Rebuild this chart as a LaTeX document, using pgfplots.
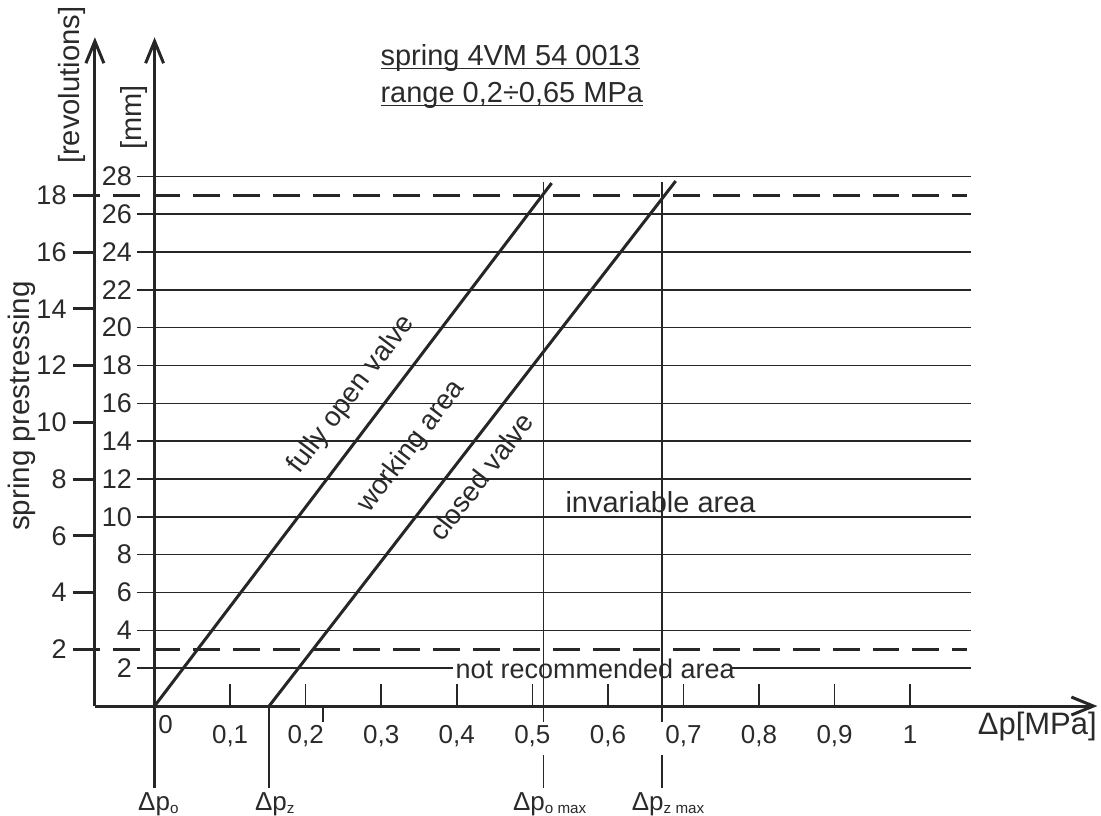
\documentclass[border=0pt]{standalone}
\usepackage{pgfplots}
\pgfplotsset{compat=1.18}
\usetikzlibrary{arrows.meta}
\usepackage{fontspec}
\setmainfont{Liberation Sans}
\definecolor{lc}{HTML}{262626}
\definecolor{tc}{HTML}{2A2A2A}
\newcommand\fs[1]{\fontsize{#1}{#1}\selectfont}
\newbox\ulbox
\newcommand\ul[1]{\setbox\ulbox\hbox{#1}\rlap{\rule[-2.1pt]{\wd\ulbox}{0.75pt}}\box\ulbox}
\newcommand\sub[1]{\raisebox{-1.6pt}{\fs{7.6}#1}}
\pgfplotsset{
  thinl/.style={line width=0.75pt, color=lc},
  thickl/.style={line width=1.5pt, color=lc},
  dashl/.style={line width=1.5pt, color=lc, dash pattern=on 13.5pt off 6.5pt},
}
\begin{document}
\begin{tikzpicture}
\begin{axis}[
  x=378pt, y=9.465pt,
  xmin=-0.079, xmax=1.2478, ymin=0, ymax=35.35,
  axis x line=bottom, axis y line=left,
  axis line style={line width=1.5pt, color=lc, -{Straight Barb[length=11pt,width=9pt]}},
  clip=false,
  xtick={0.1,0.2,0.3,0.4,0.5,0.6,0.7,0.8,0.9,1},
  xticklabels={0{,}1,0{,}2,0{,}3,0{,}4,0{,}5,0{,}6,0{,}7,0{,}8,0{,}9,1},
  tick align=inside, major tick length=11pt,
  tick style={line width=0.75pt, color=lc},
  xticklabel style={anchor=north, inner sep=0pt, yshift=-9.5pt, font=\fs{13}, text=tc},
  ytick=\empty,
  extra y ticks={3,6,9,12,15,18,21,24,27},
  extra y tick labels={2,4,6,8,10,12,14,16,18},
  extra y tick style={tick align=outside, major tick length=11pt,
     tick style={line width=1.5pt, color=lc},
     yticklabel style={anchor=east, inner sep=0pt, xshift=-3pt, font=\fs{13.5}, text=tc}},
]
% frame of the picture
\path (axis cs:-0.2046,-5.79) rectangle (axis cs:1.2517,37.31);

% horizontal grid lines (mm)
\pgfplotsinvokeforeach{4,6,8,10,12,14,16,18,20,22,24,26,28}{
  \addplot[thinl] coordinates {(-0.0234,#1) (1.0811,#1)};
}
\addplot[thinl] coordinates {(-0.0234,2) (0.3946,2)};
\addplot[thinl] coordinates {(0.7637,2) (1.0811,2)};

% dashed limits (2 and 18 revolutions = 3 and 27 mm)
\addplot[dashl] coordinates {(-0.108,3) (1.0758,3)};
\addplot[dashl] coordinates {(-0.108,27) (1.0758,27)};

% mm axis
\addplot[thickl, -{Straight Barb[length=11pt,width=9pt]}] coordinates {(0,-4.32) (0,35.35)};
% Delta p_z marker
\addplot[thinl] coordinates {(0.1516,0) (0.1516,-4.32)};
% small mark under axis
\addplot[thinl] coordinates {(0.2226,0) (0.2226,-0.835)};

% vertical lines at max pressures
\addplot[thinl] coordinates {(0.515,27.69) (0.515,-0.835)};
\addplot[thinl] coordinates {(0.515,-2.58) (0.515,-4.32)};
\addplot[thinl] coordinates {(0.6713,27.69) (0.6713,-0.835)};
\addplot[thinl] coordinates {(0.6713,-2.58) (0.6713,-4.32)};

% characteristic lines
\addplot[thickl] coordinates {(0,0) (0.5255,27.64)};
\addplot[thickl] coordinates {(0.1516,0) (0.6897,27.75)};

% mm labels
\pgfplotsinvokeforeach{2,4,6,8,10,12,14,16,18,20,22,24,26,28}{
  \node[anchor=east, inner sep=0pt, font=\fs{13.5}, text=tc] at (axis cs:-0.0294,#1) {#1};
}
\node[anchor=north west, inner sep=0pt, font=\fs{13}, text=tc] at (axis cs:0.0044,-0.465) {0};

% axis titles
\node[rotate=90, font=\fs{14.6}, text=tc] at (axis cs:-0.1087,32.81) {[revolutions]};
\node[rotate=90, font=\fs{14.5}, text=tc] at (axis cs:-0.0267,31.1) {[mm]};
\node[rotate=90, font=\fs{14.8}, text=tc] at (axis cs:-0.1755,15.86) {spring prestressing};
\node[anchor=base west, inner sep=0pt, font=\fs{15.5}, text=tc] at (axis cs:1.0891,-1.521) {Δp[MPa]};

% title
\node[anchor=base west, inner sep=0pt, font=\fs{14.5}, text=tc] at (axis cs:0.2986,33.87) {\ul{spring 4VM 54 0013}};
\node[anchor=base west, inner sep=0pt, font=\fs{14.5}, text=tc] at (axis cs:0.2986,31.92) {\ul{range 0,2÷0,65 MPa}};

% area labels
\node[rotate=52.8, font=\fs{13.8}, text=tc] at (axis cs:0.2607,16.46) {fully open valve};
\node[rotate=52.5, font=\fs{13.8}, text=tc] at (axis cs:0.3400,13.72) {working area};
\node[rotate=52.3, font=\fs{13.8}, text=tc] at (axis cs:0.4320,12.12) {closed valve};
\node[anchor=base, inner sep=0pt, font=\fs{14.5}, text=tc] at (axis cs:0.6697,10.21) {invariable area};
\node[anchor=base, inner sep=0pt, font=\fs{13.5}, text=tc] at (axis cs:0.5831,1.437) {not recommended area};

% pressure symbols
\node[anchor=north, inner sep=0pt, font=\fs{13}, text=tc] at (axis cs:0.0050,-4.532) {Δp\sub{o}};
\node[anchor=north, inner sep=0pt, font=\fs{13}, text=tc] at (axis cs:0.1591,-4.532) {Δp\sub{z}};
\node[anchor=north, inner sep=0pt, font=\fs{13}, text=tc] at (axis cs:0.5229,-4.532) {Δp\sub{o max}};
\node[anchor=north, inner sep=0pt, font=\fs{13}, text=tc] at (axis cs:0.6796,-4.532) {Δp\sub{z max}};
\end{axis}
\end{tikzpicture}
\end{document}
